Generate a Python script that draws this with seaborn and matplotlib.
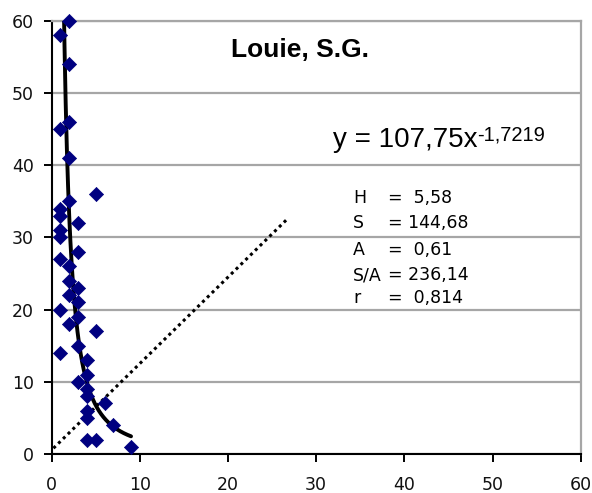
import numpy as np
import pandas as pd
import matplotlib
matplotlib.use("Agg")
import matplotlib.pyplot as plt
import seaborn as sns

# ── DATA ──────────────────────────────────────────────────
pt_x = [2, 1, 2, 2, 1, 2, 5, 2, 1, 1, 3, 1, 1, 3, 1, 2, 2, 3, 2, 3, 1, 3, 2, 5, 3,
        1, 4, 4, 3, 4, 4, 6, 4, 4, 7, 4, 5, 9]
pt_y = [60, 58, 54, 46, 45, 41, 36, 35, 34, 33, 32, 31, 30, 28, 27, 26, 24, 23, 22,
        21, 20, 19, 18, 17, 15, 14, 13, 11, 10, 9, 8, 7, 6, 5, 4, 2, 2, 1]

# power trendline shown on the chart: y = a * x^b
coef_a = 107.75
coef_b = -1.7219

# dotted reference line (end points)
ref_x = [0.2, 26.6]
ref_y = [0.8, 32.4]

title = "Louie, S.G."
eq_main = "y = 107,75x"
eq_sup = "-1,7219"
stat_names = ["H", "S", "A", "S/A", "r"]
stat_values = ["=  5,58", "= 144,68", "=  0,61", "= 236,14", "=  0,814"]

ticks = [0, 10, 20, 30, 40, 50, 60]

# ── STYLE ─────────────────────────────────────────────────
sns.set_theme(style="white")
plt.rcParams["font.family"] = ["DejaVu Sans"]
plt.rcParams["text.color"] = "black"

fig = plt.figure(figsize=(5.92, 4.93), dpi=100)
ax = fig.add_axes([0.0873, 0.0791, 0.8936, 0.8787])

df = pd.DataFrame({"x": pt_x, "y": pt_y})
trend_x = np.linspace(min(pt_x), max(pt_x), 300)
trend = pd.DataFrame({"x": trend_x, "y": coef_a * trend_x ** coef_b})

sns.lineplot(x=ref_x, y=ref_y, ax=ax, color="black", lw=2.2,
             linestyle=(0, (1, 1.2)), zorder=2)
sns.lineplot(data=trend, x="x", y="y", ax=ax, color="black", lw=2.8,
             sort=False, zorder=3)
sns.scatterplot(data=df, x="x", y="y", ax=ax, marker="D", s=52,
                color="#000080", edgecolor="#000080", linewidth=0.5,
                clip_on=False, zorder=4)

ax.set_xlim(0, 60)
ax.set_ylim(0, 60)
ax.set_xticks(ticks)
ax.set_yticks(ticks)
ax.set_xlabel("")
ax.set_ylabel("")
ax.yaxis.grid(True, color="#a6a6a6", lw=1.6)
ax.set_axisbelow(True)

for side in ["left", "bottom"]:
    ax.spines[side].set_color("black")
    ax.spines[side].set_linewidth(1.5)
for side in ["top", "right"]:
    ax.spines[side].set_color("#a6a6a6")
    ax.spines[side].set_linewidth(1.6)

ax.tick_params(axis="both", which="major", direction="out", length=6,
               width=1.4, color="black", labelsize=12.5, labelcolor="#111111",
               left=True, bottom=True)
ax.tick_params(axis="y", pad=7)
ax.tick_params(axis="x", pad=10)

# ── TEXT ──────────────────────────────────────────────────
sans = ["Liberation Sans", "DejaVu Sans"]
ax.text(0.469, 0.932, title, transform=ax.transAxes, ha="center", va="center",
        fontsize=19, fontweight="bold", family=sans)
main = ax.text(0.532, 0.7085, eq_main, transform=ax.transAxes, ha="left",
               va="baseline", fontsize=20, family=sans)
ax.annotate(eq_sup, xy=(1, 1), xycoords=main, xytext=(0, 1),
            textcoords="offset points", ha="left", va="top",
            fontsize=14.5, family=sans)

line_y = [198, 223, 250, 275, 298]
for name, val, py in zip(stat_names, stat_values, line_y):
    yy = (454 - py) / 433.3
    ax.text((353 - 51.7) / 529, yy, name, transform=ax.transAxes,
            ha="left", va="center", fontsize=12.5)
    ax.text((388 - 51.7) / 529, yy, val, transform=ax.transAxes,
            ha="left", va="center", fontsize=12.5)

fig.savefig("out.png", dpi=100)
